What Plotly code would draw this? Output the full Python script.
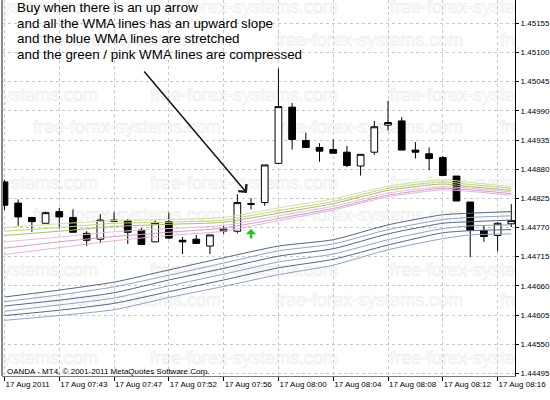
import base64
import plotly.graph_objects as go

# --- price bars (M1), index = bar number ---
bar_idx = list(range(38))
opens = [1.44856, 1.44816, 1.44789, 1.44778, 1.44800, 1.44789, 1.44759, 1.44748, 1.44784, 1.44783,
         1.44765, 1.44743, 1.44781, 1.44746, 1.44748, 1.44735, 1.44763, 1.44763, 1.44815, 1.44817,
         1.44891, 1.44997, 1.44934, 1.44921, 1.44917, 1.44912, 1.44886, 1.44912, 1.44963, 1.44971,
         1.44916, 1.44909, 1.44902, 1.44867, 1.44818, 1.44764, 1.44755, 1.44777]
highs = [1.44860, 1.44823, 1.44790, 1.44800, 1.44807, 1.44804, 1.44763, 1.44795, 1.44799, 1.44786,
         1.44769, 1.44783, 1.44798, 1.44752, 1.44756, 1.44756, 1.44773, 1.44833, 1.44825, 1.44888,
         1.45070, 1.45005, 1.44949, 1.44929, 1.44936, 1.44924, 1.44908, 1.44971, 1.45009, 1.44978,
         1.44931, 1.44921, 1.44905, 1.44867, 1.44818, 1.44774, 1.44780, 1.44814]
lows = [1.44803, 1.44773, 1.44762, 1.44778, 1.44768, 1.44761, 1.44735, 1.44740, 1.44781, 1.44739,
        1.44738, 1.44743, 1.44748, 1.44720, 1.44740, 1.44720, 1.44758, 1.44759, 1.44804, 1.44811,
        1.44891, 1.44917, 1.44921, 1.44894, 1.44910, 1.44884, 1.44868, 1.44907, 1.44953, 1.44916,
        1.44900, 1.44878, 1.44868, 1.44820, 1.44714, 1.44743, 1.44725, 1.44771]
closes = [1.44812, 1.44790, 1.44781, 1.44798, 1.44790, 1.44761, 1.44746, 1.44784, 1.44782, 1.44761,
          1.44738, 1.44779, 1.44750, 1.44743, 1.44740, 1.44756, 1.44767, 1.44817, 1.44814, 1.44888,
          1.44998, 1.44936, 1.44921, 1.44914, 1.44910, 1.44887, 1.44908, 1.44960, 1.44968, 1.44916,
          1.44912, 1.44900, 1.44868, 1.44820, 1.44765, 1.44753, 1.44778, 1.44783]

tick_idx = [0, 4, 8, 12, 16, 20, 24, 28, 32, 36]
tick_text = ["17 Aug 2011", "17 Aug 07:43", "17 Aug 07:47", "17 Aug 07:52", "17 Aug 07:56",
             "17 Aug 08:00", "17 Aug 08:04", "17 Aug 08:08", "17 Aug 08:12", "17 Aug 08:16"]

# --- WMA lines, read at these bars ---
wma_x = [0, 4, 8, 12, 16, 20, 24, 28, 32, 34, 37]
green_1 = [1.44770, 1.44777, 1.44783, 1.44785, 1.44789, 1.44807, 1.44824, 1.44848, 1.44860, 1.44855, 1.44847]
green_2 = [1.44763, 1.44770, 1.44778, 1.44780, 1.44784, 1.44802, 1.44819, 1.44844, 1.44856, 1.44851, 1.44844]
green_3 = [1.44755, 1.44763, 1.44772, 1.44776, 1.44780, 1.44797, 1.44815, 1.44840, 1.44852, 1.44847, 1.44840]
pink_1 = [1.44743, 1.44752, 1.44762, 1.44768, 1.44774, 1.44792, 1.44810, 1.44835, 1.44847, 1.44844, 1.44837]
pink_2 = [1.44731, 1.44743, 1.44753, 1.44761, 1.44769, 1.44787, 1.44806, 1.44831, 1.44844, 1.44841, 1.44834]
pink_3 = [1.44719, 1.44732, 1.44745, 1.44755, 1.44763, 1.44783, 1.44803, 1.44828, 1.44841, 1.44838, 1.44831]
blue_1 = [1.44639, 1.44652, 1.44667, 1.44690, 1.44713, 1.44735, 1.44747, 1.44775, 1.44794, 1.44797, 1.44800]
blue_2 = [1.44630, 1.44643, 1.44658, 1.44680, 1.44703, 1.44726, 1.44739, 1.44766, 1.44785, 1.44789, 1.44792]
blue_3 = [1.44622, 1.44633, 1.44647, 1.44671, 1.44693, 1.44716, 1.44730, 1.44758, 1.44778, 1.44781, 1.44784]
blue_4 = [1.44612, 1.44624, 1.44637, 1.44660, 1.44682, 1.44705, 1.44720, 1.44747, 1.44768, 1.44773, 1.44775]
blue_5 = [1.44604, 1.44614, 1.44627, 1.44649, 1.44671, 1.44694, 1.44710, 1.44737, 1.44760, 1.44764, 1.44766]
blue_6 = [1.44595, 1.44604, 1.44615, 1.44638, 1.44659, 1.44681, 1.44699, 1.44728, 1.44749, 1.44756, 1.44758]

# buy signal (green up arrow)
signal_idx = [18]
signal_price = [1.44767]

note_lines = ["Buy when there is an up arrow",
              "and all the WMA lines has an upward slope",
              "and the blue WMA lines are stretched",
              "and the green / pink WMA lines are compressed"]

WATERMARK = "free-forex-systems.com"

fig = go.Figure()

wma_styles = [
    (blue_6, "#8fa3c2"), (blue_5, "#56657f"), (blue_4, "#8fa3c2"),
    (blue_3, "#56657f"), (blue_2, "#8fa3c2"), (blue_1, "#56657f"),
    (pink_3, "#e3b6d8"), (pink_2, "#d59fc6"), (pink_1, "#e6bddc"),
    (green_3, "#a9bd6c"), (green_2, "#c3d183"), (green_1, "#d6e09c"),
]
for vals, col in wma_styles:
    fig.add_trace(go.Scatter(x=wma_x, y=vals, mode="lines",
                             line=dict(color=col, width=1, shape="spline", smoothing=0.6),
                             hoverinfo="skip", showlegend=False))

fig.add_trace(go.Candlestick(
    x=bar_idx, open=opens, high=highs, low=lows, close=closes,
    increasing=dict(line=dict(color="black", width=1), fillcolor="white"),
    decreasing=dict(line=dict(color="black", width=1), fillcolor="black"),
    whiskerwidth=0, showlegend=False,
))

# green up arrow
for sx, sy in zip(signal_idx, signal_price):
    fig.add_annotation(x=sx, y=sy, text="", showarrow=True, ax=0, ay=11,
                       arrowhead=1, arrowsize=0.7, arrowwidth=2.5, arrowcolor="#1ec81e")

# black pointer arrow to the signal bar
fig.add_annotation(x=signal_idx[0] - 0.3, y=1.44835, text="", showarrow=True, ax=-104, ay=-123,
                   arrowhead=4, arrowsize=1.3, arrowwidth=1.6, arrowcolor="#1a1a1a", standoff=0)

# explanation text, one line each
for k, line in enumerate(note_lines):
    fig.add_annotation(x=0.0255, y=1 - (7.5 + 15.6 * k) / 376, xref="paper", yref="paper",
                       xanchor="left", yanchor="middle", showarrow=False, text=line,
                       font=dict(family="Liberation Sans, Arial", size=13.4, color="black"))

fig.add_annotation(x=0.006, y=1 - 371 / 376, xref="paper", yref="paper", xanchor="left", yanchor="middle",
                   showarrow=False, text="OANDA - MT4, © 2001-2011 MetaQuotes Software Corp.",
                   font=dict(family="Liberation Sans, Arial", size=8, color="black"))

# faint site watermark behind the chart (svg background image)
wm = []
for ry in [7, 95, 183, 270, 358]:
    for rx in [-92, 148, 388]:
        wm.append((rx, ry))
for ry in [40, 127, 215, 300]:
    for rx in [31, 273, 498]:
        wm.append((rx, ry))
svg = ['<svg xmlns="http://www.w3.org/2000/svg" width="513" height="376" viewBox="0 0 513 376">']
for rx, ry in wm:
    svg.append(f'<text x="{rx}" y="{ry + 6}" font-family="Liberation Sans, Arial" font-size="18" '
               f'fill="none" stroke="#e6e6e6" stroke-width="0.5">{WATERMARK}</text>')
svg.append("</svg>")
svg_uri = "data:image/svg+xml;base64," + base64.b64encode("".join(svg).encode()).decode()
fig.add_layout_image(source=svg_uri, xref="paper", yref="paper", x=0, y=1, sizex=1, sizey=1,
                     sizing="stretch", xanchor="left", yanchor="top", layer="below")

fig.add_shape(type="line", xref="paper", yref="paper", x0=0, x1=0, y0=0, y1=1,
              line=dict(color="#8a8a8a", width=2))

fig.update_layout(
    width=550, height=400,
    margin=dict(l=2, r=35, t=0, b=24),
    paper_bgcolor="white", plot_bgcolor="white",
    font=dict(family="Liberation Sans, Arial", size=8, color="black"),
    showlegend=False,
    template="none",
)
fig.update_xaxes(
    range=[-0.18, 37.27], rangeslider_visible=False,
    tickmode="array", tickvals=tick_idx, ticktext=tick_text,
    ticklabelposition="outside right", tickangle=0,
    showgrid=True, gridcolor="#c9c9c9", griddash="3px,3px", gridwidth=1,
    ticks="outside", ticklen=4, tickcolor="black",
    showline=True, linecolor="#7a7a7a", linewidth=1,
    zeroline=False, automargin=False,
    tickfont=dict(size=8),
)
fig.update_yaxes(
    range=[1.44490, 1.45199], side="right",
    tick0=1.44495, dtick=0.00055, tickformat=".5f",
    showgrid=True, gridcolor="#c9c9c9", griddash="3px,3px", gridwidth=1,
    ticks="outside", ticklen=3, tickcolor="black",
    showline=True, linecolor="black", linewidth=1,
    zeroline=False, automargin=False,
    tickfont=dict(size=8),
)

fig.write_html("out.html", config={"displayModeBar": False},
               post_script="document.body.style.margin='0';")
